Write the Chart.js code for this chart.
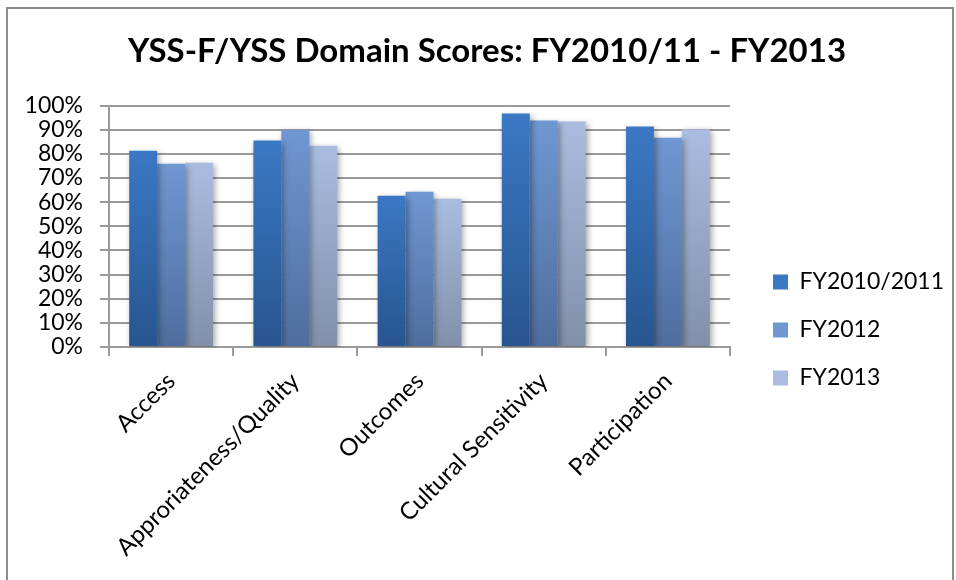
<!DOCTYPE html>
<html>
<head>
<meta charset="utf-8">
<script src="https://cdn.jsdelivr.net/npm/chart.js@4.4.1/dist/chart.umd.min.js"></script>
<style>
html,body{margin:0;padding:0;background:#fff;}
#wrap{width:956px;height:580px;position:relative;}
</style>
</head>
<body>
<div id="wrap"><canvas id="c" width="956" height="580"></canvas></div>
<script>
const categories = ["Access", "Approriateness/Quality", "Outcomes", "Cultural Sensitivity", "Participation"];
const seriesNames = ["FY2010/2011", "FY2012", "FY2013"];
const fy2010_2011 = [0.813, 0.855, 0.627, 0.967, 0.913];
const fy2012 = [0.759, 0.900, 0.643, 0.938, 0.867];
const fy2013 = [0.763, 0.834, 0.614, 0.934, 0.902];
const yTicks = [0, 0.1, 0.2, 0.3, 0.4, 0.5, 0.6, 0.7, 0.8, 0.9, 1.0];
const titleText = "YSS-F/YSS Domain Scores: FY2010/11 - FY2013";

const gradStops = [
  ["#3B78C4", "#27558F"],
  ["#6F97D2", "#4E6D9E"],
  ["#AABDE0", "#8090AA"]
];

function barGradient(i) {
  return function(ctx) {
    const chart = ctx.chart;
    const area = chart.chartArea;
    if (!area) return gradStops[i][0];
    const ys = chart.scales.y;
    let top = area.top, bottom = area.bottom;
    if (ctx.type === 'data' && ctx.parsed) {
      top = ys.getPixelForValue(ctx.parsed.y);
      bottom = ys.getPixelForValue(0);
    }
    if (!isFinite(top) || !isFinite(bottom) || top === bottom) return gradStops[i][0];
    const g = chart.ctx.createLinearGradient(0, top, 0, bottom);
    g.addColorStop(0, gradStops[i][0]);
    g.addColorStop(1, gradStops[i][1]);
    return g;
  };
}

const frame = {
  id: 'frame',
  afterDraw(chart) {
    const c = chart.ctx;
    c.save();
    c.strokeStyle = '#8c8c8c';
    c.lineWidth = 2;
    c.strokeRect(7, 8, 946, 600);
    c.restore();
  }
};

const shadow = {
  id: 'shadow',
  beforeDatasetsDraw(chart) {
    const c = chart.ctx;
    c.save();
    c.shadowColor = 'rgba(0,0,0,0.35)';
    c.shadowBlur = 6;
    c.shadowOffsetX = 2;
    c.shadowOffsetY = 2;
  },
  afterDatasetsDraw(chart) {
    chart.ctx.restore();
  }
};

const font = "Lato, 'Noto Sans', sans-serif";

new Chart(document.getElementById('c'), {
  type: 'bar',
  data: {
    labels: categories,
    datasets: [fy2010_2011, fy2012, fy2013].map((d, i) => ({
      label: seriesNames[i],
      data: d,
      backgroundColor: barGradient(i),
      borderWidth: 0,
      categoryPercentage: 0.675,
      barPercentage: 1.0
    }))
  },
  options: {
    responsive: false,
    animation: false,
    devicePixelRatio: 1,
    layout: { padding: { left: 20, right: 2, top: 20, bottom: 0 } },
    plugins: {
      title: {
        display: true,
        text: titleText,
        color: '#000',
        font: { family: font, size: 33, weight: 'bold' },
        padding: { top: 12, bottom: 34 }
      },
      legend: {
        position: 'right',
        title: { display: true, text: ' ', padding: 0, font: { family: font, size: 60, lineHeight: 1 } },
        labels: {
          color: '#000',
          font: { family: font, size: 23 },
          boxWidth: 15,
          boxHeight: 15,
          padding: 25,
          generateLabels(chart) {
            return chart.data.datasets.map((ds, i) => ({
              text: ds.label,
              fillStyle: gradStops[i][0],
              strokeStyle: 'rgba(0,0,0,0)',
              lineWidth: 0,
              datasetIndex: i,
              hidden: false,
              fontColor: '#000'
            }));
          }
        }
      },
      tooltip: { enabled: false }
    },
    scales: {
      x: {
        afterFit(scale) { scale.height = 233; },
        grid: { display: true, drawOnChartArea: false, offset: true, color: '#9a9a9a', lineWidth: 2, tickLength: 9 },
        border: { display: true, color: '#9a9a9a', width: 2 },
        ticks: {
          color: '#000',
          font: { family: font, size: 24 },
          maxRotation: 45,
          minRotation: 45,
          padding: 11,
          labelOffset: 0,
          autoSkip: false
        }
      },
      y: {
        min: 0,
        max: 1,
        afterBuildTicks(scale) { scale.ticks = yTicks.map(v => ({ value: v })); },
        afterFit(scale) { scale.width = 89; },
        grid: { color: '#9a9a9a', lineWidth: 2, tickLength: 9 },
        border: { display: true, color: '#9a9a9a', width: 2 },
        ticks: {
          color: '#000',
          font: { family: font, size: 23 },
          padding: 17,
          autoSkip: false,
          callback: v => Math.round(v * 100) + '%'
        }
      },
      gap: {
        type: 'linear',
        position: 'right',
        display: false,
        afterFit(scale) { scale.width = 18; }
      }
    }
  },
  plugins: [shadow, frame]
});
</script>
</body>
</html>
